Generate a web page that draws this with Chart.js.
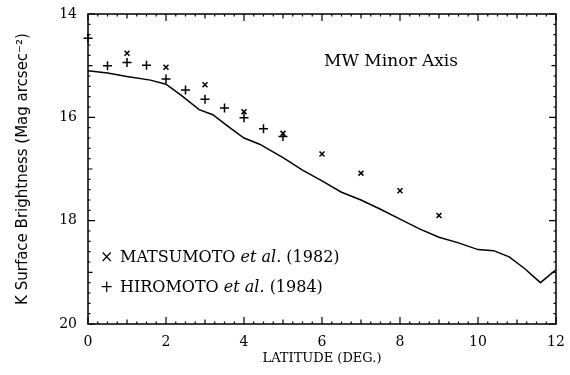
<!DOCTYPE html>
<html>
<head>
<meta charset="utf-8">
<script src="https://cdn.jsdelivr.net/npm/chart.js@4"></script>
<style>
  body { margin: 0; background: #fff; }
  #wrap { width: 570px; height: 375px; }
</style>
</head>
<body>
<div id="wrap"><canvas id="myChart" width="570" height="375"></canvas></div>
<script>
// data block
const matsLat = [1, 2, 3, 4, 5, 6, 7, 8, 9];
const matsK = [14.76, 15.03, 15.37, 15.89, 16.31, 16.71, 17.08, 17.42, 17.9];

const hiroLat = [0, 0.5, 1, 1.5, 2, 2.5, 3, 3.5, 4, 4.5, 5];
const hiroK = [14.47, 15.0, 14.94, 14.99, 15.26, 15.47, 15.65, 15.82, 16.01, 16.22, 16.37];

// model curve
const modelLat = [0, 0.5, 1, 1.6, 2, 2.4, 2.85, 3.2, 3.6, 4, 4.4, 5, 5.5, 6, 6.5, 7, 7.5, 8, 8.5, 9, 9.5, 10, 10.4, 10.8, 11.2, 11.6, 12];
const modelK = [15.1, 15.14, 15.21, 15.28, 15.36, 15.58, 15.85, 15.95, 16.18, 16.4, 16.52, 16.78, 17.02, 17.23, 17.45, 17.6, 17.78, 17.97, 18.16, 18.32, 18.43, 18.56, 18.58, 18.7, 18.93, 19.2, 18.95];

const xTicks = [0, 2, 4, 6, 8, 10, 12];
const yTicks = [14, 16, 18, 20];

const toXY = (xs, ys) => xs.map((x, i) => ({ x: x, y: ys[i] }));

const serif = "'DejaVu Serif', 'Liberation Serif', serif";

// frame, inward ticks, title and legend
const framePlugin = {
  id: "frame",
  afterDraw(chart) {
    const { ctx, chartArea: a, scales } = chart;
    const xs = scales.x, ys = scales.y;
    ctx.save();
    ctx.strokeStyle = "#000";
    ctx.lineWidth = 1.5;
    ctx.strokeRect(a.left, a.top, a.right - a.left, a.bottom - a.top);
    ctx.lineWidth = 1.2;
    ctx.beginPath();
    for (let i = 0; i <= 48; i++) {
      const v = i * 0.25;
      const len = i % 8 === 0 ? 7 : i % 4 === 0 ? 4.5 : 2.5;
      const px = xs.getPixelForValue(v);
      ctx.moveTo(px, a.bottom); ctx.lineTo(px, a.bottom - len);
      ctx.moveTo(px, a.top); ctx.lineTo(px, a.top + len);
    }
    for (let i = 0; i <= 30; i++) {
      const v = 14 + i * 0.2;
      const len = i % 10 === 0 ? 7 : i % 5 === 0 ? 4.5 : 2.5;
      const py = ys.getPixelForValue(v);
      ctx.moveTo(a.left, py); ctx.lineTo(a.left + len, py);
      ctx.moveTo(a.right, py); ctx.lineTo(a.right - len, py);
    }
    ctx.stroke();

    ctx.fillStyle = "#000";
    ctx.textBaseline = "middle";
    ctx.font = "17px " + serif;
    ctx.textAlign = "center";
    ctx.fillText("MW Minor Axis", a.left + 303, a.top + 48);

    // legend
    const items = [
      { sym: "\u00d7", name: "MATSUMOTO ", year: " (1982)", y: 244 },
      { sym: "+", name: "HIROMOTO ", year: " (1984)", y: 274 }
    ];
    ctx.textAlign = "left";
    items.forEach(it => {
      const y = a.top + it.y;
      ctx.font = "16px " + serif;
      ctx.fillText(it.sym, a.left + 12, y);
      let x = a.left + 32;
      ctx.fillText(it.name, x, y);
      x += ctx.measureText(it.name).width;
      ctx.font = "italic 16px " + serif;
      ctx.fillText("et al.", x, y);
      x += ctx.measureText("et al.").width;
      ctx.font = "16px " + serif;
      ctx.fillText(it.year, x, y);
    });
    ctx.restore();
  }
};

const config = {
  type: "scatter",
  data: {
    datasets: [
      {
        label: "Model",
        data: toXY(modelLat, modelK),
        showLine: true,
        borderColor: "#000",
        borderWidth: 1.5,
        pointRadius: 0,
        tension: 0
      },
      {
        label: "MATSUMOTO et al. (1982)",
        data: toXY(matsLat, matsK),
        pointStyle: "crossRot",
        pointRadius: 3.5,
        borderColor: "#000",
        borderWidth: 1.5,
        backgroundColor: "#000"
      },
      {
        label: "HIROMOTO et al. (1984)",
        data: toXY(hiroLat, hiroK),
        pointStyle: "cross",
        pointRadius: 4.5,
        borderColor: "#000",
        borderWidth: 1.5,
        backgroundColor: "#000",
        clip: false
      }
    ]
  },
  options: {
    responsive: false,
    animation: false,
    layout: { padding: { top: 14, right: 14, left: 0, bottom: 0 } },
    plugins: {
      legend: { display: false },
      tooltip: { enabled: false }
    },
    scales: {
      x: {
        type: "linear",
        min: 0,
        max: 12,
        grid: { display: false },
        border: { display: false },
        afterFit: s => { s.height = 51; },
        afterBuildTicks: s => { s.ticks = xTicks.map(v => ({ value: v })); },
        ticks: { color: "#000", padding: 2, font: { family: serif, size: 14 } },
        title: {
          display: true,
          text: "LATITUDE (DEG.)",
          color: "#000",
          font: { family: serif, size: 13 },
          padding: { top: 0, bottom: 9 }
        }
      },
      y: {
        type: "linear",
        min: 14,
        max: 20,
        reverse: true,
        grid: { display: false },
        border: { display: false },
        afterFit: s => { s.width = 88; },
        afterBuildTicks: s => { s.ticks = yTicks.map(v => ({ value: v })); },
        ticks: { color: "#000", padding: 3, font: { family: serif, size: 14 } },
        title: {
          display: true,
          text: "K Surface Brightness (Mag arcsec\u207b\u00b2)",
          color: "#000",
          font: { family: "'DejaVu Sans', sans-serif", size: 15 },
          padding: { top: 14, bottom: 0 }
        }
      }
    }
  },
  plugins: [framePlugin]
};

const myChart = new Chart(document.getElementById("myChart"), config);
</script>
</body>
</html>
